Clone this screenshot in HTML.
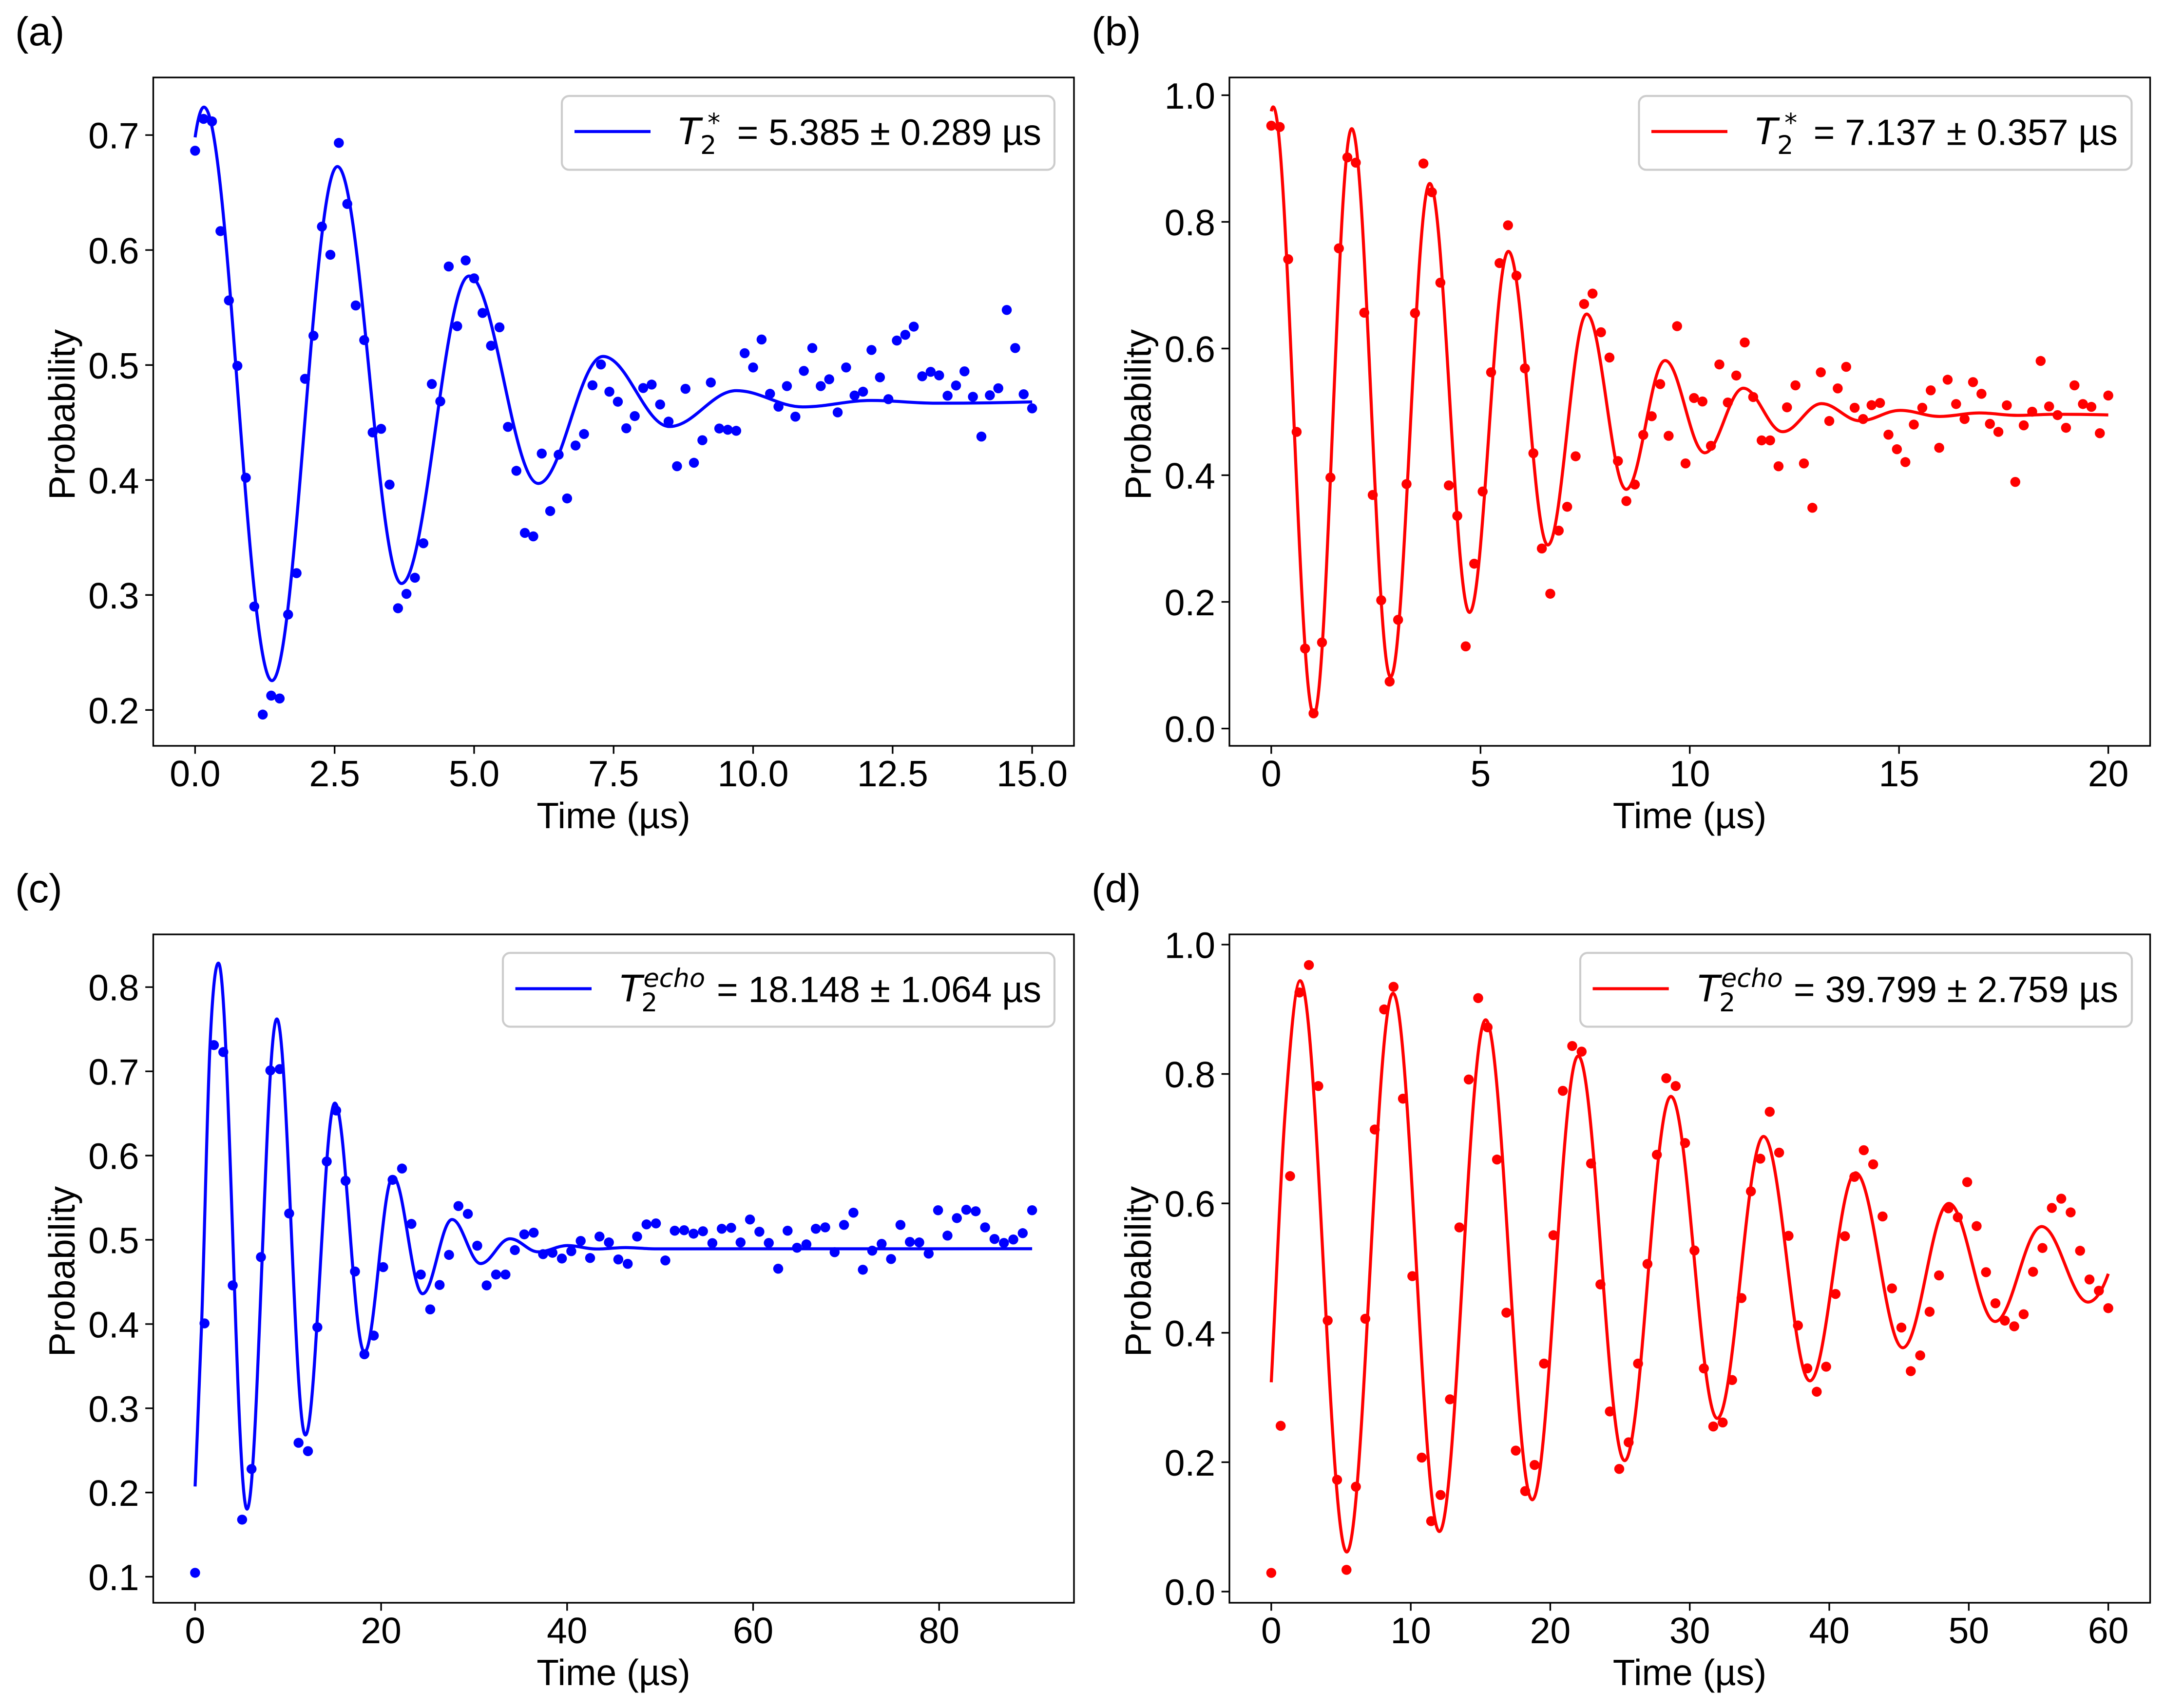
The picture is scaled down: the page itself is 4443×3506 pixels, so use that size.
<!DOCTYPE html>
<html lang="en">
<head>
<meta charset="utf-8">
<title>T2 decay measurements</title>
<style>
  html, body { margin: 0; padding: 0; background: #fff; }
  body { width: 4443px; height: 3506px; overflow: hidden; }
  svg { display: block; position: absolute; left: 0; top: 0; }
  text { font-family: "Liberation Sans", sans-serif; fill: #000; }
  .tick { font-size: 75px; }
  .label { font-size: 75px; }
  .tag { font-size: 83px; }
  .legend-text { font-size: 75px; }
  .m { font-family: "DejaVu Sans", sans-serif; }
  .mi { font-family: "DejaVu Sans", sans-serif; font-style: italic; }
  .box { fill: #fff; stroke: #cccccc; stroke-width: 4.17; }
</style>
</head>
<body>
<svg id="figure" xmlns="http://www.w3.org/2000/svg" width="4443" height="3506" viewBox="0 0 4443 3506">
  <rect x="0" y="0" width="4443" height="3506" fill="#fff"/>

  <g id="plot-a"></g>
  <g id="plot-b"></g>
  <g id="plot-c"></g>
  <g id="plot-d"></g>

  <text class="tag" x="31" y="93">(a)</text>
  <text class="tag" x="2240" y="93">(b)</text>
  <text class="tag" x="31" y="1852">(c)</text>
  <text class="tag" x="2240" y="1852">(d)</text>

  <text class="label" x="1259" y="1700" text-anchor="middle">Time (µs)</text>
  <text class="label" x="3467.5" y="1700" text-anchor="middle">Time (µs)</text>
  <text class="label" x="1259" y="3459" text-anchor="middle">Time (µs)</text>
  <text class="label" x="3467.5" y="3459" text-anchor="middle">Time (µs)</text>

  <text class="label" transform="translate(153 851) rotate(-90)" text-anchor="middle">Probability</text>
  <text class="label" transform="translate(2361.5 851) rotate(-90)" text-anchor="middle">Probability</text>
  <text class="label" transform="translate(153 2610) rotate(-90)" text-anchor="middle">Probability</text>
  <text class="label" transform="translate(2361.5 2610) rotate(-90)" text-anchor="middle">Probability</text>

  <g>
    <rect class="box" x="1153" y="197" width="1011" height="151.5" rx="15"/>
    <line x1="1179" x2="1335" y1="270" y2="270" stroke="#0000ff" stroke-width="6.25"/>
    <text class="mi" font-size="75" x="1392" y="296">T</text>
    <text class="m" font-size="52.5" x="1437" y="316">2</text>
    <text class="m" font-size="52.5" x="1452" y="270">*</text>
    <text class="legend-text" x="2137" y="297.5" text-anchor="end">= 5.385 ± 0.289 µs</text>
  </g>
  <g>
    <rect class="box" x="3363.5" y="197" width="1011" height="151.5" rx="15"/>
    <line x1="3389" x2="3545" y1="270" y2="270" stroke="#ff0000" stroke-width="6.25"/>
    <text class="mi" font-size="75" x="3602" y="296">T</text>
    <text class="m" font-size="52.5" x="3647" y="316">2</text>
    <text class="m" font-size="52.5" x="3662" y="270">*</text>
    <text class="legend-text" x="4346" y="297.5" text-anchor="end">= 7.137 ± 0.357 µs</text>
  </g>
  <g>
    <rect class="box" x="1032" y="1956" width="1132" height="151.5" rx="15"/>
    <line x1="1057.6" x2="1214" y1="2029.5" y2="2029.5" stroke="#0000ff" stroke-width="6.25"/>
    <text class="mi" font-size="75" x="1272" y="2055.5">T</text>
    <text class="m" font-size="52.5" x="1316" y="2076">2</text>
    <text class="mi" font-size="52.5" x="1320.5" y="2026">echo</text>
    <text class="legend-text" x="2137" y="2057" text-anchor="end">= 18.148 ± 1.064 µs</text>
  </g>
  <g>
    <rect class="box" x="3243" y="1956" width="1132" height="151.5" rx="15"/>
    <line x1="3268.5" x2="3424.7" y1="2029.5" y2="2029.5" stroke="#ff0000" stroke-width="6.25"/>
    <text class="mi" font-size="75" x="3483.5" y="2055.5">T</text>
    <text class="m" font-size="52.5" x="3528" y="2076">2</text>
    <text class="mi" font-size="52.5" x="3532" y="2026">echo</text>
    <text class="legend-text" x="4347" y="2057" text-anchor="end">= 39.799 ± 2.759 µs</text>
  </g>
</svg>

<script>
// ---------- panel (a) data ----------
const probA = [.6864,.7141,.7119,.6165,.5562,.4993,.402,.29,.196,.2125,.21,.283,.319,.488,.5255,.6204,.5959,.6932,.6401,.5518,
  .5217,.4414,.4445,.396,.2885,.301,.315,.345,.4835,.4684,.5857,.5338,.591,.5754,.5453,.5168,.5328,.4462,.408,.354,
  .351,.423,.373,.422,.384,.43,.44,.4824,.5005,.4768,.4681,.445,.4556,.48,.483,.4657,.4508,.412,.4793,.415,
  .4346,.4848,.4448,.4437,.4428,.5103,.4979,.5222,.475,.4638,.4817,.4551,.4949,.5148,.4817,.4876,.4588,.4979,.4735,.4768,
  .5131,.4893,.4703,.5213,.5263,.5334,.4902,.4941,.491,.4733,.4822,.4945,.4724,.4378,.4737,.4798,.5479,.5148,.4746,.4623];
const fitTimeA = [0,.158,1.377,2.55,3.70,4.91,6.15,7.31,8.50,9.70,10.89,12.12,13.29,15];
const fitProbA = [.698,.7243,.2255,.6726,.31,.5774,.397,.5075,.4465,.4777,.4636,.4692,.4668,.4679];
const xTicksA = ["0.0","2.5","5.0","7.5","10.0","12.5","15.0"];
const yTicksA = ["0.2","0.3","0.4","0.5","0.6","0.7"];
const timeMaxA = 15;

// ---------- panel (b) data ----------
const probB = [.9519,.9498,.741,.4684,.1263,.024,.136,.3963,.7582,.9018,.8935,.6566,.3688,.2026,.0742,.1717,.386,.6559,.8921,.8468,
  .704,.3839,.3358,.1298,.2603,.3743,.5625,.7349,.7946,.715,.5687,.4347,.2843,.2129,.3125,.3502,.4299,.6703,.6868,.6257,
  .5858,.4224,.3592,.3853,.4636,.4931,.5439,.4622,.6353,.4186,.5219,.5164,.4464,.5749,.5148,.5574,.6096,.5234,.455,.455,
  .4141,.5072,.5419,.4186,.3486,.5625,.4856,.5371,.5711,.5065,.4887,.5106,.5141,.464,.441,.4207,.48,.5065,.534,.4433,
  .5508,.5124,.4887,.547,.5285,.4811,.4684,.5103,.3894,.4787,.5003,.5804,.5086,.4949,.4749,.5419,.5124,.5079,.4663,.5258];
const fitTimeB = [0,.045,1.017,1.923,2.851,3.787,4.737,5.666,6.609,7.537,8.48,9.41,10.36,11.28,12.22,13.15,14.07,15.03,15.97,16.92,17.82,18.75,20];
const fitProbB = [.9746,.9815,.022,.9471,.0817,.8606,.1834,.7534,.2898,.6545,.3777,.581,.4354,.5374,.4687,.513,.4859,.5024,.4928,.4983,.4945,.4962,.4952];
const xTicksB = ["0","5","10","15","20"];
const yTicksB = ["0.0","0.2","0.4","0.6","0.8","1.0"];
const timeMaxB = 20;

// ---------- panel (c) data ----------
const probC = [.1047,.4008,.7312,.7229,.4459,.1678,.2279,.4795,.7011,.7027,.5313,.259,.2491,.3962,.593,.6535,.5701,.4624,.3641,.3863,
  .4676,.5712,.5846,.5189,.4588,.4174,.4464,.4821,.5401,.5308,.493,.4459,.4588,.4588,.4878,.5065,.5085,.483,.4846,.4778,
  .4865,.4987,.4784,.5039,.4969,.4767,.4715,.5039,.5183,.5195,.4755,.5108,.5114,.5073,.5102,.4961,.5131,.5143,.4969,.5241,
  .5096,.4963,.4657,.5108,.4906,.4946,.5131,.5148,.4853,.5177,.5322,.4645,.4871,.4952,.4772,.5177,.4975,.4969,.4836,.5351,
  .505,.5258,.5357,.5339,.5148,.501,.4963,.5004,.5079,.5351];
const fitTimeC = [0,.7,1.6,2.51,5.58,8.79,11.86,15.03,18.21,21.28,24.46,27.63,30.7,33.85,36.9,40.05,43.15,46.3,49.4,90];
const fitProbC = [.2072,.40,.73,.8285,.1803,.7622,.2683,.6623,.3667,.5748,.436,.5241,.4718,.5013,.4857,.4932,.4891,.4908,.4893,.4894];
const xTicksC = ["0","20","40","60","80"];
const yTicksC = ["0.1","0.2","0.3","0.4","0.5","0.6","0.7","0.8"];
const timeMaxC = 90;

// ---------- panel (d) data ----------
const probD = [.0289,.2562,.6422,.926,.9684,.7814,.419,.1728,.0336,.1621,.4217,.7142,.8998,.9348,.7619,.4876,.2071,.1089,.1493,.2972,
  .5629,.7915,.9173,.8722,.6678,.4311,.2179,.1553,.1957,.3524,.5508,.774,.8433,.8346,.6617,.4748,.2784,.1896,.2307,.3524,
  .5064,.6752,.7935,.7814,.6933,.5272,.345,.2552,.2614,.327,.4537,.6186,.6691,.7416,.6785,.5499,.4113,.3451,.3089,.3476,
  .46,.5493,.641,.6822,.6604,.5798,.4687,.4081,.3407,.365,.4325,.4887,.5923,.5786,.6329,.5649,.4937,.4456,.4188,.41,
  .4287,.4943,.5311,.593,.6073,.5861,.5268,.4824,.465,.4381];
const fitTimeD = [0,1,2.07,5.41,8.73,12.05,15.37,18.71,22.0,25.33,28.65,31.97,35.29,38.61,41.89,45.27,48.57,51.89,55.23,58.55,60];
const fitProbD = [.3235,.742,.9442,.0612,.9247,.0928,.8837,.1419,.8278,.2024,.7653,.2677,.7035,.3257,.6473,.3769,.6,.4175,.5642,.4475,.4912];
const xTicksD = ["0","10","20","30","40","50","60"];
const yTicksD = ["0.0","0.2","0.4","0.6","0.8","1.0"];
const timeMaxD = 60;

// ---------- rendering ----------
const NS = 'http://www.w3.org/2000/svg';
function make(parent, tag, attrs) {
  const el = document.createElementNS(NS, tag);
  for (const k in attrs) el.setAttribute(k, attrs[k]);
  parent.appendChild(el);
  return el;
}

function drawPanel(id, box, yDomain, color, times, probs, fitTime, fitProb, xTicks, yTicks) {
  const g = document.getElementById(id);
  const xMargin = times[times.length - 1] * 0.05;
  const x0 = -xMargin, x1 = times[times.length - 1] + xMargin;
  const sx = t => box.left + (t - x0) / (x1 - x0) * (box.right - box.left);
  const sy = v => box.bottom - (v - yDomain[0]) / (yDomain[1] - yDomain[0]) * (box.bottom - box.top);

  // fitted curve
  const n = fitTime.length;
  const slope = new Array(n);
  const isPeak = i => i > 0 && i < n - 1 && (fitProb[i] - fitProb[i-1]) * (fitProb[i+1] - fitProb[i]) <= 0;
  for (let i = 0; i < n; i++) {
    if (i === 0) {
      const s = (fitProb[1] - fitProb[0]) / (fitTime[1] - fitTime[0]);
      slope[i] = isPeak(1) ? 2 * s : s;
    } else if (i === n - 1) {
      const s = (fitProb[i] - fitProb[i-1]) / (fitTime[i] - fitTime[i-1]);
      slope[i] = isPeak(i-1) ? 2 * s : s;
    } else if (isPeak(i)) {
      slope[i] = 0;
    } else {
      slope[i] = (fitProb[i+1] - fitProb[i-1]) / (fitTime[i+1] - fitTime[i-1]);
    }
  }
  let d = 'M' + sx(fitTime[0]).toFixed(2) + ' ' + sy(fitProb[0]).toFixed(2);
  for (let i = 0; i < n - 1; i++) {
    const dt = fitTime[i+1] - fitTime[i];
    const k = (slope[i] === 0 && slope[i+1] === 0) ? 0.3634 : 1/3;
    const c1t = fitTime[i] + dt * k, c2t = fitTime[i+1] - dt * k;
    const c1v = fitProb[i] + slope[i] * dt / 3, c2v = fitProb[i+1] - slope[i+1] * dt / 3;
    d += 'C' + sx(c1t).toFixed(2) + ' ' + sy(c1v).toFixed(2) + ' ' + sx(c2t).toFixed(2) + ' ' + sy(c2v).toFixed(2) + ' ' + sx(fitTime[i+1]).toFixed(2) + ' ' + sy(fitProb[i+1]).toFixed(2);
  }

  // measured points
  const dots = make(g, 'g', { fill: color });
  
  
  times.forEach((t, i) => {
    const c = make(dots, 'circle', { cx: sx(t).toFixed(2), cy: sy(probs[i]).toFixed(2), r: 10.25 });
    
    
  });

  const curve = make(g, 'path', { d: d, fill: 'none', stroke: color, 'stroke-width': 6.25, 'stroke-linejoin': 'round', 'stroke-linecap': 'butt' });
  
  

  // ticks
  xTicks.forEach(lab => {
    const v = parseFloat(lab);
    const tl = make(g, 'line', { x1: sx(v), x2: sx(v), y1: box.bottom, y2: box.bottom + 16.3, stroke: '#000', 'stroke-width': 3.33 });
    
    
    const tt = make(g, 'text', { x: sx(v), y: box.bottom + 83, 'text-anchor': 'middle', class: 'tick' });
    tt.textContent = lab;
    
    
  });
  yTicks.forEach(lab => {
    const v = parseFloat(lab);
    const tl = make(g, 'line', { x1: box.left, x2: box.left - 16.3, y1: sy(v), y2: sy(v), stroke: '#000', 'stroke-width': 3.33 });
    
    
    const tt = make(g, 'text', { x: box.left - 29, y: sy(v) + 27.5, 'text-anchor': 'end', class: 'tick' });
    tt.textContent = lab;
    
    
  });

  // frame
  const frame = make(g, 'rect', { x: box.left, y: box.top, width: box.right - box.left, height: box.bottom - box.top, fill: 'none', stroke: '#000', 'stroke-width': 3.33 });
  
  
}

function sampleGrid(tMax, count) {
  const out = [];
  for (let i = 0; i < count; i++) out.push(tMax * i / (count - 1));
  return out;
}

drawPanel('plot-a', { left: 314.5, right: 2204, top: 159, bottom: 1531 }, [.1688, .7501], '#0000ff',
  sampleGrid(timeMaxA, probA.length), probA, fitTimeA, fitProbA, xTicksA, yTicksA);
drawPanel('plot-b', { left: 2523, right: 4412.5, top: 159, bottom: 1531 }, [-.0273, 1.028], '#ff0000',
  sampleGrid(timeMaxB, probB.length), probB, fitTimeB, fitProbB, xTicksB, yTicksB);
drawPanel('plot-c', { left: 314.5, right: 2204, top: 1918, bottom: 3290 }, [.0691, .8626], '#0000ff',
  sampleGrid(timeMaxC, probC.length), probC, fitTimeC, fitProbC, xTicksC, yTicksC);
drawPanel('plot-d', { left: 2523, right: 4412.5, top: 1918, bottom: 3290 }, [-.0173, 1.0158], '#ff0000',
  sampleGrid(timeMaxD, probD.length), probD, fitTimeD, fitProbD, xTicksD, yTicksD);
</script>
</body>
</html>
